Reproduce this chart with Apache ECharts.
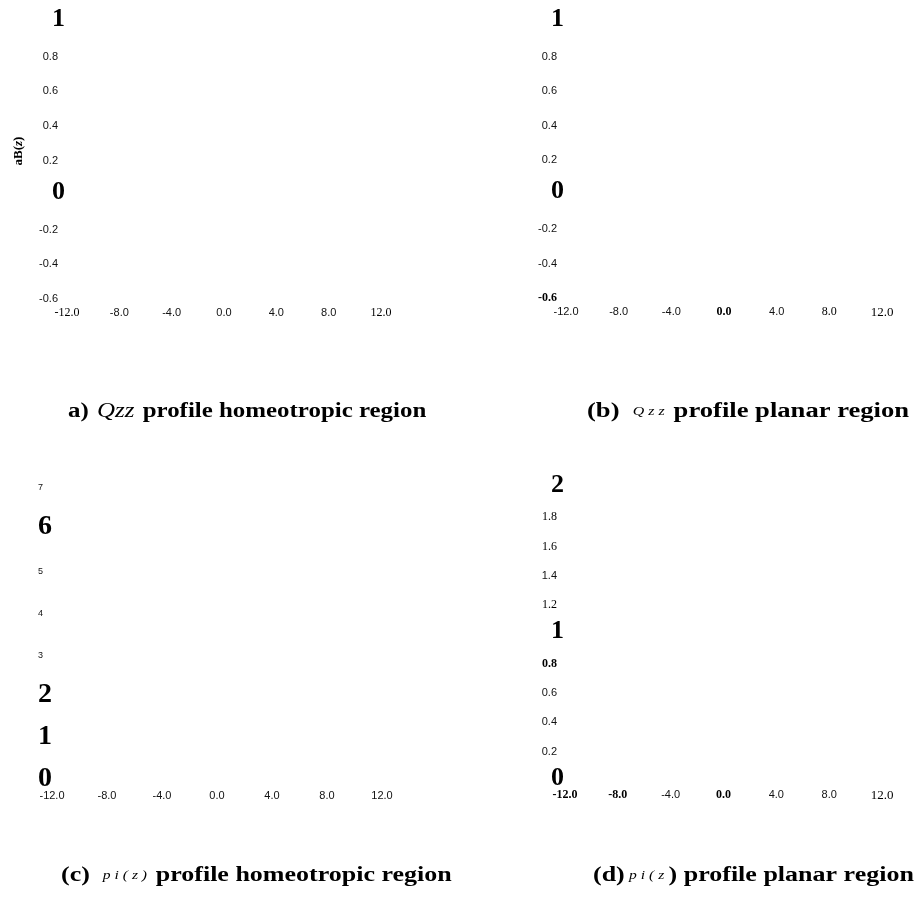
<!DOCTYPE html>
<html><head><meta charset="utf-8">
<script src="https://cdn.jsdelivr.net/npm/echarts@6/dist/echarts.min.js"></script>
<style>html,body{margin:0;padding:0;background:#fff}#c{width:916px;height:907px}</style>
</head><body><div id="c"></div>
<script>
// ---- data: tick values of each panel ----
const xTicks = [-12, -8, -4, 0, 4, 8, 12];
const yTicksQzz = [-0.6, -0.4, -0.2, 0, 0.2, 0.4, 0.6, 0.8, 1];
const yTicksPiHomeo = [0, 1, 2, 3, 4, 5, 6, 7];
const yTicksPiPlanar = [0, 0.2, 0.4, 0.6, 0.8, 1, 1.2, 1.4, 1.6, 1.8, 2];

// ---- label style choices (by label text) ----
const xStyleA = {'-12.0': 'serif', '12.0': 'serif'};
const xStyleB = {'0.0': 'serifBold', '8.0': 'serif', '12.0': 'serifBig'};
const xStyleC = {};
const xStyleD = {'-12.0': 'serifBold', '-8.0': 'serifBold', '0.0': 'serifBold', '12.0': 'serifBig'};
const yStyleA = {'1': 'big', '0': 'big'};
const yStyleB = {'1': 'big', '0': 'big', '-0.6': 'serifBold'};
const yStyleC = {'6': 'big', '2': 'big', '1': 'big', '0': 'big'};
const yStyleD = {'2': 'big', '1': 'big', '0': 'big', '1.8': 'serif', '1.6': 'serif', '1.2': 'serif', '0.8': 'serifBold'};

const SERIF = 'Liberation Serif', SANS = 'Liberation Sans';
function richSet(pad, bigSize, sansSize) {
  const p = [0, pad, 0, 0];
  return {
    big: {fontFamily: SERIF, fontWeight: 'bold', fontSize: bigSize, color: '#000', padding: [0, 0, 6, 0]},
    sans: {fontFamily: SANS, fontSize: sansSize, color: '#111', padding: p},
    serif: {fontFamily: SERIF, fontSize: 12, color: '#000', padding: p},
    serifBold: {fontFamily: SERIF, fontWeight: 'bold', fontSize: 12, color: '#000', padding: p},
    serifBig: {fontFamily: SERIF, fontSize: 13, color: '#000', padding: [0, pad, 3, 0]}
  };
}
function fmtX(map) {
  return v => { const s = (Math.round(v * 10) / 10).toFixed(1); return '{' + (map[s] || 'sans') + '|' + s + '}'; };
}
function fmtY(map) {
  return v => {
    const r = Math.round(v * 10) / 10;
    const s = Number.isInteger(r) ? String(r) : r.toFixed(1);
    return '{' + (map[s] || 'sans') + '|' + s + '}';
  };
}
function xAxisFor(idx, map) {
  return {
    type: 'value', gridIndex: idx, min: xTicks[0], max: xTicks[xTicks.length - 1],
    interval: xTicks[1] - xTicks[0],
    axisLine: {show: false}, axisTick: {show: false}, splitLine: {show: false},
    axisLabel: {margin: 8, formatter: fmtX(map), rich: richSet(0, 13, 11)}
  };
}
function yAxisFor(idx, ticks, map, opts) {
  const interval = Math.round((ticks[1] - ticks[0]) * 1000) / 1000;
  return Object.assign({
    type: 'value', gridIndex: idx, min: ticks[0], max: ticks[ticks.length - 1], interval: interval,
    axisLine: {show: false}, axisTick: {show: false}, splitLine: {show: false}
  }, opts, {
    axisLabel: Object.assign({formatter: fmtY(map)}, opts.axisLabel)
  });
}

const titleRich = {
  b: {fontFamily: SERIF, fontWeight: 'bold', fontSize: 20, color: '#000'},
  i: {fontFamily: SERIF, fontStyle: 'italic', fontSize: 20, color: '#000'},
  si: {fontFamily: SERIF, fontStyle: 'italic', fontSize: 12, color: '#000'},
  nb: {fontFamily: SERIF, fontWeight: 'bold', fontSize: 13, color: '#000'},
  ni: {fontFamily: SERIF, fontWeight: 'bold', fontStyle: 'italic', fontSize: 13, color: '#000'}
};
function titleText(x, y, sx, text) {
  return {type: 'text', x: x, y: y, scaleX: sx,
    style: {text: text, rich: titleRich, verticalAlign: 'middle', align: 'left', fill: '#000'}};
}

const chart = echarts.init(document.getElementById('c'));
chart.setOption({
  backgroundColor: '#fff',
  animation: false,
  grid: [
    {left: 67, top: 22, width: 314, height: 277},
    {left: 566, top: 22, width: 316, height: 276},
    {left: 52, top: 488, width: 330, height: 294},
    {left: 565, top: 488, width: 317, height: 293}
  ],
  xAxis: [xAxisFor(0, xStyleA), xAxisFor(1, xStyleB), xAxisFor(2, xStyleC), xAxisFor(3, xStyleD)],
  yAxis: [
    yAxisFor(0, yTicksQzz, yStyleA, {axisLabel: {margin: 2, rich: richSet(7, 26, 11)}}),
    yAxisFor(1, yTicksQzz, yStyleB, {axisLabel: {margin: 2, rich: richSet(7, 26, 11)}}),
    yAxisFor(2, yTicksPiHomeo, yStyleC, {axisLabel: {margin: 14, align: 'left', rich: richSet(0, 28, 9)}}),
    yAxisFor(3, yTicksPiPlanar, yStyleD, {axisLabel: {margin: 1, rich: richSet(7, 26, 11)}})
  ],
  series: [],
  graphic: [
    {type: 'text', x: 19, y: 151, rotation: Math.PI / 2,
      style: {text: '{nb|aB(}{ni|z}{nb|)}', rich: titleRich, align: 'center', verticalAlign: 'middle', fill: '#000'}},
    titleText(68, 412, 1.245, '{b|a)}  {i|Qzz}  {b|profile homeotropic region}'),
    titleText(587, 412, 1.33, '{b|(b)}   {si|Q z z}  {b|profile planar region}'),
    titleText(61, 876, 1.30, '{b|(c)}   {si|p i ( z )}  {b|profile homeotropic region}'),
    titleText(593, 876, 1.3, '{b|(d)} {si|p i ( z} {b|) profile planar region}')
  ]
});
</script></body></html>
